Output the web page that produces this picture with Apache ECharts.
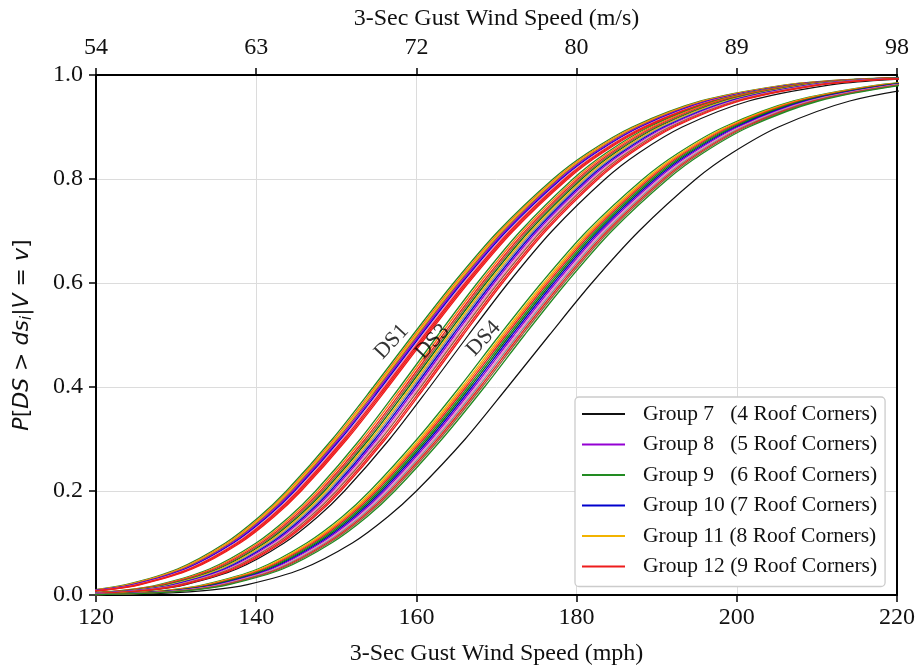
<!DOCTYPE html>
<html>
<head>
<meta charset="utf-8">
<script src="https://cdn.jsdelivr.net/npm/echarts@6/dist/echarts.min.js"></script>
<style>
html,body{margin:0;padding:0;background:#fff;}
#chart{width:918px;height:671px;}
</style>
</head>
<body>
<div id="chart"></div>
<script>
// ---------- data ----------
// exceedance probability levels at which the curve x-positions (mph) were read
const pLevels = [0.0002, 0.001, 0.003, 0.01, 0.02, 0.05, 0.1, 0.15, 0.2, 0.3, 0.4, 0.5, 0.6, 0.7, 0.8, 0.85, 0.9, 0.95, 0.98, 0.99, 0.997, 0.999];
// centre line of each bundle (wind speed in mph at each probability level)
const ds1Centre = [103.8, 109.75, 114.47, 120.57, 124.68, 131.11, 137.10, 141.30, 144.72, 150.47, 155.57, 160.5, 165.59, 171.19, 178.01, 182.31, 187.90, 196.48, 206.63, 213.66, 225.04, 234.72];
const ds3Centre = [109.0, 114.8, 119.45, 125.44, 129.47, 135.76, 141.59, 145.70, 149.02, 154.61, 159.54, 164.3, 169.20, 174.60, 181.14, 185.28, 190.64, 198.84, 208.51, 215.18, 226.0, 235.1];
const ds4Centre = [113.5, 119.6, 124.5, 130.9, 135.1, 141.8, 147.9, 152.3, 155.8, 161.7, 167.0, 172.0, 177.2, 182.9, 189.9, 194.3, 200.0, 208.7, 218.9, 226.1, 237.5, 247.3];
// Group 7 curves (stand apart from the bundles)
const ds3Group7 = [110.4, 116.35, 121.05, 127.12, 131.20, 137.58, 143.49, 147.65, 151.02, 156.68, 161.67, 166.5, 171.46, 176.94, 183.57, 187.76, 193.19, 201.50, 211.30, 218.07, 229.02, 238.26];
const ds4Group7 = [116.7, 123.0, 128.0, 134.5, 138.9, 145.7, 152.0, 156.4, 160.0, 166.1, 171.4, 176.6, 181.9, 187.8, 194.9, 199.4, 205.2, 214.1, 224.6, 231.8, 243.6, 253.5];
// shift (mph) of every curve inside a bundle, relative to the bundle centre, with its colour key
const ds1Shifts = [-0.95, -0.7, -0.5, -0.3, -0.1, 0.1, 0.3, 0.5, 0.7, 0.9];
const ds1Keys   = ['g9', 'orange', 'g11', 'brown', 'g8', 'g10', 'pink', 'g12', 'g12', 'g12'];
const ds3Shifts = [-1.6, -1.3, -1.0, -0.75, -0.5, -0.25, 0, 0.25, 0.5, 0.75, 1.0, 1.3, 1.55];
const ds3Keys   = ['g9', 'orange', 'g12', 'brown', 'dkgreen', 'g11', 'grey', 'g10', 'g8', 'pink', 'brown', 'g12', 'g12'];
const ds4Shifts = [-1.6, -1.3, -1.05, -0.8, -0.55, -0.3, -0.05, 0.2, 0.45, 0.7, 0.95, 1.2, 1.5];
const ds4Keys   = ['g9', 'g11', 'orange', 'g12', 'g9', 'dkgreen', 'g10', 'g8', 'pink', 'grey', 'g12', 'brown', 'g9'];

const legendNames = ['Group 7   (4 Roof Corners)', 'Group 8   (5 Roof Corners)', 'Group 9   (6 Roof Corners)',
                     'Group 10 (7 Roof Corners)', 'Group 11 (8 Roof Corners)', 'Group 12 (9 Roof Corners)'];
const legendKeys = ['g7', 'g8', 'g9', 'g10', 'g11', 'g12'];

const mphTicks = [120, 140, 160, 180, 200, 220];
const msTickLabels = ['54', '63', '72', '80', '89', '98'];

const dsLabels = ['DS1', 'DS3', 'DS4'];
const dsLabelX = [156.9, 162.0, 168.4];
const dsLabelY = [0.487, 0.487, 0.493];

// ---------- styling ----------
const colors = {
  g7: '#111111', g8: '#9400d3', g9: '#228b22', g10: '#0000cd', g11: '#f2b300', g12: '#ee1c1c',
  orange: '#ff6f0f', brown: '#9c5a3c', pink: '#e889c0', grey: '#8a8a8a', dkgreen: '#0b6b0b'
};
const serif = "'Liberation Serif', 'Times New Roman', serif";

function nameFor(key) {
  const i = legendKeys.indexOf(key);
  return i >= 0 ? legendNames[i] : 'other-' + key;
}
function curvePoints(centre, shift) {
  return centre.map((x, i) => [x + shift, pLevels[i]]);
}
function lineSeries(key, data, width) {
  return {
    type: 'line', name: nameFor(key), data: data, showSymbol: false, symbol: 'none',
    smooth: 0.3, clip: true, color: colors[key],
    lineStyle: { color: colors[key], width: width }, emphasis: { disabled: true }, silent: true, z: 3
  };
}

const series = [];
[[ds1Centre, ds1Shifts, ds1Keys], [ds3Centre, ds3Shifts, ds3Keys], [ds4Centre, ds4Shifts, ds4Keys]].forEach(([c, s, k]) => {
  s.forEach((sh, i) => series.push(lineSeries(k[i], curvePoints(c, sh), 1.3)));
});
series.unshift(lineSeries('g7', curvePoints(ds4Group7, 0), 1.2));
series.unshift(lineSeries('g7', curvePoints(ds3Group7, 0), 1.2));
series.push({
  type: 'scatter', name: 'labels', symbolSize: 0, silent: true, z: 5,
  data: dsLabels.map((t, i) => ({ name: t, value: [dsLabelX[i], dsLabelY[i]] })),
  label: {
    show: true, position: 'inside', formatter: p => p.name, rotate: 47,
    color: '#000', fontFamily: serif, fontSize: 22
  }
});

const axisLabelStyle = { color: '#111', fontFamily: serif, fontSize: 24 };
const tickStyle = { show: true, inside: false, length: 7, lineStyle: { color: '#000', width: 1.5 } };

const option = {
  animation: false,
  backgroundColor: '#fff',
  grid: { left: 96, right: 21, top: 75, bottom: 73, containLabel: false },
  xAxis: [
    {
      type: 'value', position: 'bottom', min: 120, max: 220, interval: 20,
      name: '3-Sec Gust Wind Speed (mph)', nameLocation: 'middle', nameGap: 47,
      nameTextStyle: { color: '#111', fontFamily: serif, fontSize: 24 },
      axisLine: { show: true, onZero: false, lineStyle: { color: '#000', width: 2 } },
      axisTick: tickStyle,
      axisLabel: Object.assign({ margin: 11 }, axisLabelStyle),
      splitLine: { show: true, lineStyle: { color: '#dcdcdc', width: 1 } }
    },
    {
      type: 'value', position: 'top', min: 120, max: 220, interval: 20,
      name: '3-Sec Gust Wind Speed (m/s)', nameLocation: 'middle', nameGap: 43,
      nameTextStyle: { color: '#111', fontFamily: serif, fontSize: 24 },
      axisLine: { show: true, onZero: false, lineStyle: { color: '#000', width: 2 } },
      axisTick: tickStyle,
      axisLabel: Object.assign({ margin: 15, formatter: v => msTickLabels[mphTicks.indexOf(v)] }, axisLabelStyle),
      splitLine: { show: false }
    }
  ],
  yAxis: [
    {
      type: 'value', position: 'left', min: 0, max: 1, interval: 0.2,
      name: '{it|P}{n|[}{it|DS}{n| > }{it|ds}{sub|i}{n||}{it|V}{n| = }{it|v}{n|]}',
      nameLocation: 'middle', nameGap: 61, nameRotate: 90,
      nameTextStyle: {
        color: '#111', fontFamily: 'DejaVu Sans', fontSize: 22,
        rich: {
          it: { fontFamily: 'DejaVu Sans', fontStyle: 'italic', fontSize: 22, color: '#111' },
          n: { fontFamily: 'DejaVu Sans', fontSize: 22, color: '#111' },
          sub: { fontFamily: 'DejaVu Sans', fontStyle: 'italic', fontSize: 15, color: '#111', padding: [10, 0, 0, 0] }
        }
      },
      axisLine: { show: true, onZero: false, lineStyle: { color: '#000', width: 2 } },
      axisTick: tickStyle,
      axisLabel: Object.assign({ margin: 13, formatter: v => v.toFixed(1) }, axisLabelStyle),
      splitLine: { show: true, lineStyle: { color: '#dcdcdc', width: 1 } }
    },
    {
      type: 'value', position: 'right', min: 0, max: 1, interval: 0.2,
      axisLine: { show: true, onZero: false, lineStyle: { color: '#000', width: 2 } },
      axisTick: { show: false }, axisLabel: { show: false }, splitLine: { show: false }
    }
  ],
  legend: {
    orient: 'vertical', left: 575, top: 397,
    data: legendNames.map(n => ({ name: n, icon: 'rect' })),
    itemWidth: 43, itemHeight: 2, itemGap: 8.5,
    padding: [6, 8, 9, 7],
    backgroundColor: '#fff', borderColor: '#cccccc', borderWidth: 1.3, borderRadius: 4,
    selectedMode: false,
    textStyle: { color: '#111', fontFamily: serif, fontSize: 21.5, lineHeight: 20, padding: [0, 0, 0, 13] }
  },
  series: series
};

const chart = echarts.init(document.getElementById('chart'), null, { renderer: 'canvas' });
chart.setOption(option);
</script>
</body>
</html>
